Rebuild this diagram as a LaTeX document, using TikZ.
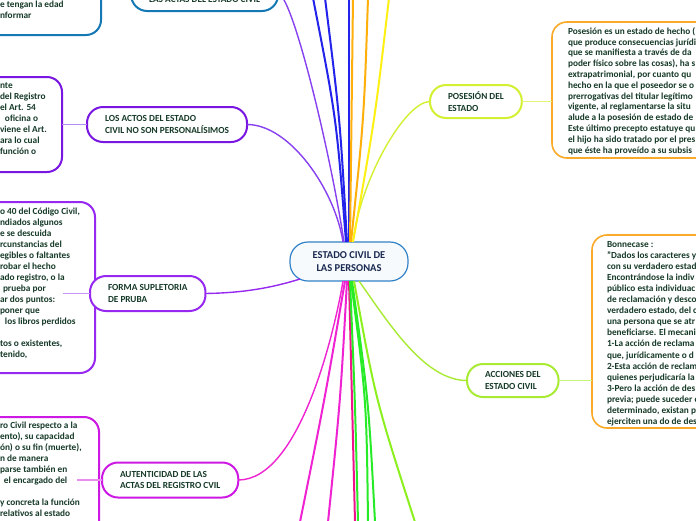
\documentclass[tikz,border=0pt]{standalone}
\usepackage{fontspec}
\setmainfont{Carlito}
\definecolor{txtc}{RGB}{22,58,40}
\definecolor{navy}{RGB}{25,40,80}
\definecolor{cblue}{RGB}{20,120,180}
\definecolor{cpurA}{RGB}{122,22,225}
\definecolor{cpurB}{RGB}{150,40,240}
\definecolor{cmag}{RGB}{205,25,228}
\definecolor{cyel}{RGB}{212,240,50}
\definecolor{clime}{RGB}{168,235,50}
\definecolor{corng}{RGB}{250,170,40}
\definecolor{lpurA}{RGB}{180,140,245}
\definecolor{lpurB}{RGB}{195,150,245}
\definecolor{lmag}{RGB}{232,140,240}
\definecolor{lyel}{RGB}{228,245,120}
\definecolor{llime}{RGB}{200,245,120}
\definecolor{lnpur}{RGB}{135,65,240}
\definecolor{lnblue}{RGB}{35,35,235}
\definecolor{lnorng}{RGB}{255,175,10}
\definecolor{lnyel}{RGB}{255,240,20}
\definecolor{lnmag}{RGB}{240,35,210}
\definecolor{lnpink}{RGB}{240,20,140}
\definecolor{lngreen}{RGB}{40,235,40}
\definecolor{lnlime}{RGB}{140,240,30}
\definecolor{ctrfill}{RGB}{246,250,253}
\definecolor{ctrdraw}{RGB}{50,130,200}
\tikzset{
  pill/.style={draw, line width=2pt, rounded corners=16pt, fill=white,
    font=\bfseries\fontsize{9.3}{11.5}\selectfont, text=txtc, align=left,
    inner xsep=18pt, inner ysep=0pt, minimum height=35pt},
  bigbox/.style={draw, line width=2pt, rounded corners=15pt, fill=white},
  obox/.style={draw=corng, line width=1.6pt, rounded corners=15pt, fill=white},
  body/.style={font=\bfseries\fontsize{9.3}{11}\selectfont, text=txtc, align=left,
    inner sep=0pt, anchor=north west},
  conn/.style={line width=1.4pt},
  far/.style={line width=2pt},
  every node/.style={outer sep=0pt}
}
\begin{document}
\begin{tikzpicture}[x=1pt,y=-1pt]
\useasboundingbox (0,0) rectangle (696,520);
\fill[white] (0,0) rectangle (696,520);

% boxes
\node[bigbox, draw=cblue, minimum width=300pt, minimum height=200pt, anchor=south east] (tlb) at (101,35) {};
\node[bigbox, draw=cpurA, minimum width=300pt, minimum height=95pt, anchor=north east] (losb) at (62,77) {};
\node[bigbox, draw=cpurB, minimum width=300pt, minimum height=171pt, anchor=north east] (formb) at (95,202) {};
\node[bigbox, draw=cmag, minimum width=300pt, minimum height=200pt, anchor=north east] (autb) at (99,417) {};
\node[obox, minimum width=250pt, minimum height=136pt, anchor=north west] (posb) at (552,22) {};
\node[obox, minimum width=250pt, minimum height=193pt, anchor=north west] (bonb) at (592,235) {};

% box texts
\node[body] (tlt) at (0,-0.5) {\rule{0pt}{8pt}e tengan la edad\\nformar};
\node[body] (lost) at (0,80.5) {\rule{0pt}{8pt}nte\\del Registro\\el Art. 54\\\hspace*{5pt}oficina o\\viene el Art.\\ara lo cual\\función o};
\node[body] (formt) at (0,206.2) {\rule{0pt}{8pt}o 40 del Código Civil,\\ndiados algunos\\e se descuida\\rcunstancias del\\egibles o faltantes\\robar el hecho\\ado registro, o la\\\hspace*{3pt}prueba por\\ar dos puntos:\\poner que\\\hspace*{5pt}los libros perdidos\\\mbox{}\\tos o existentes,\\tenido,};
\node[body] (autt) at (0,420.2) {\rule{0pt}{8pt}ro Civil respecto a la\\ento), su capacidad\\ón) o su fin (muerte),\\n de manera\\parse también en\\\hspace*{4pt}el encargado del\\\mbox{}\\y concreta la función\\relativos al estado};
\node[body, font=\bfseries\fontsize{9.3}{10.8}\selectfont] (post) at (568,26.2) {\rule{0pt}{8pt}Posesión es un estado de hecho (\\que produce consecuencias jurídi\\que se manifiesta a través de da\\poder físico sobre las cosas), ha s\\extrapatrimonial, por cuanto qu\\hecho en la que el poseedor se o\\prerrogativas del titular legítimo\\vigente, al reglamentarse la situ\\alude a la posesión de estado de\\Este último precepto estatuye qu\\el hijo ha sido tratado por el pres\\que éste ha proveído a su subsis};
\node[body, font=\bfseries\fontsize{9.3}{11.05}\selectfont] (bont) at (607,239.5) {\rule{0pt}{8pt}Bonnecase :\\"Dados los caracteres y\\con su verdadero estad\\Encontrándose la indiv\\público esta individuac\\de reclamación y desco\\verdadero estado, del c\\una persona que se atr\\beneficiarse. El mecani\\1-La acción de reclama\\que, jurídicamente o d\\2-Esta acción de reclam\\quienes perjudicaría la\\3-Pero la acción de des\\previa; puede suceder c\\determinado, existan p\\ejerciten una do de des};

% center
\node[draw=ctrdraw, fill=ctrfill, line width=1.2pt, rounded corners=18pt, minimum width=118pt, minimum height=39pt, inner sep=0pt,
  font=\bfseries\fontsize{10.5}{13}\selectfont, text=navy, align=center] (ctr) at (349,261.5) {ESTADO CIVIL DE\\LAS PERSONAS};

% pills
\node[pill, draw=cblue, anchor=east] (actp) at (278,-6.5) {\raisebox{-8.5pt}[0pt][0pt]{LAS ACTAS DEL ESTADO CIVIL}};
\node[pill, draw=cpurA, anchor=west] (losp) at (87,124.5) {LOS ACTOS DEL ESTADO\\CIVIL NO SON PERSONALÍSIMOS};
\node[pill, draw=cpurB, anchor=west] (formp) at (90,293.5) {FORMA SUPLETORIA\\DE PRUBA};
\node[pill, draw=cmag, anchor=west] (autp) at (102,480) {AUTENTICIDAD DE LAS\\ACTAS DEL REGISTRO CVIL};
\node[pill, draw=cyel, anchor=west, minimum height=33pt] (posp) at (430,101.5) {POSESIÓN DEL\\ESTADO};
\node[pill, draw=clime, anchor=west, minimum height=33pt] (accp) at (467,380.5) {ACCIONES DEL\\ESTADO CIVIL};

% pill to box connectors
\coordinate (fc) at (63,293.5);
\coordinate (ac) at (77,480);
\draw[conn, lpurA] (losb.east) -- (losp.west);
\draw[conn, lpurB] (fc) -- (formp.west);
\draw[conn, lmag] (ac) -- (autp.west);
\draw[conn, lyel] (posp.east) -- (posp.east -| posb.west);
\draw[conn, llime] (accp.east) -- (accp.east -| bonb.west);

% center connectors to visible pills
\draw[conn, lnpur] (actp.east) .. controls (292,-6.5) and (330,150) .. ([xshift=-5pt]ctr.north);
\draw[conn, lnpur] (losp.east) .. controls (290,124.5) and (335,190) .. ([xshift=-6pt]ctr.north);
\draw[conn, cpurB] (formp.east) .. controls (235,293) and (265,290) .. ([xshift=10pt,yshift=2pt]ctr.south west);
\draw[conn, lnmag] (autp.east) .. controls (300,480) and (335,330) .. ([xshift=-6pt]ctr.south);
\draw[conn, cyel] (posp.west) .. controls (405,101.5) and (360,180) .. ([xshift=4pt]ctr.north);
\draw[conn, clime] ([xshift=10pt]ctr.south) .. controls (390,325) and (425,380.5) .. (accp.west);

% connectors to nodes outside the picture
\coordinate (t1) at (313,-2);
\coordinate (t2) at (325,-2);
\coordinate (t3) at (349,-2);
\coordinate (t4) at (353,-2);
\coordinate (t5) at (368,-2);
\coordinate (t6) at (389,-2);
\draw[far, lnblue] ([xshift=-3pt]ctr.north) .. controls (336.5,118.5) .. (t1);
\draw[far, lnblue] ([xshift=-2pt]ctr.north) .. controls (340,118.5) .. (t2);
\draw[far, lnblue] (ctr.north) -- (t3);
\draw[far, lnorng] ([xshift=1pt]ctr.north) -- (t4);
\draw[far, lnorng] ([xshift=2pt]ctr.north) .. controls (364,118.5) .. (t5);
\draw[far, lnyel] ([xshift=4pt]ctr.north) .. controls (375,118.5) .. (t6);

\coordinate (b1) at (300,522);
\coordinate (b2) at (328,522);
\coordinate (b3) at (355,522);
\coordinate (b4) at (358,522);
\coordinate (b5) at (368,522);
\coordinate (b6) at (375,522);
\coordinate (b7) at (415,522);
\draw[far, lnmag] ([xshift=-4pt]ctr.south) .. controls (324.7,399.5) .. (b1);
\draw[far, lnmag] ([xshift=-2pt]ctr.south) .. controls (340.5,399.5) .. (b2);
\draw[far, lnpink] (ctr.south) .. controls (352,399.5) .. (b3);
\draw[far, lngreen] ([xshift=1pt]ctr.south) .. controls (355,399.5) .. (b4);
\draw[far, lngreen] ([xshift=2pt]ctr.south) .. controls (366.5,399.5) .. (b5);
\draw[far, lngreen] ([xshift=3pt]ctr.south) .. controls (368.5,399.5) .. (b6);
\draw[far, lnlime] ([xshift=5pt]ctr.south) .. controls (375.5,399.5) .. (b7);
\end{tikzpicture}
\end{document}
